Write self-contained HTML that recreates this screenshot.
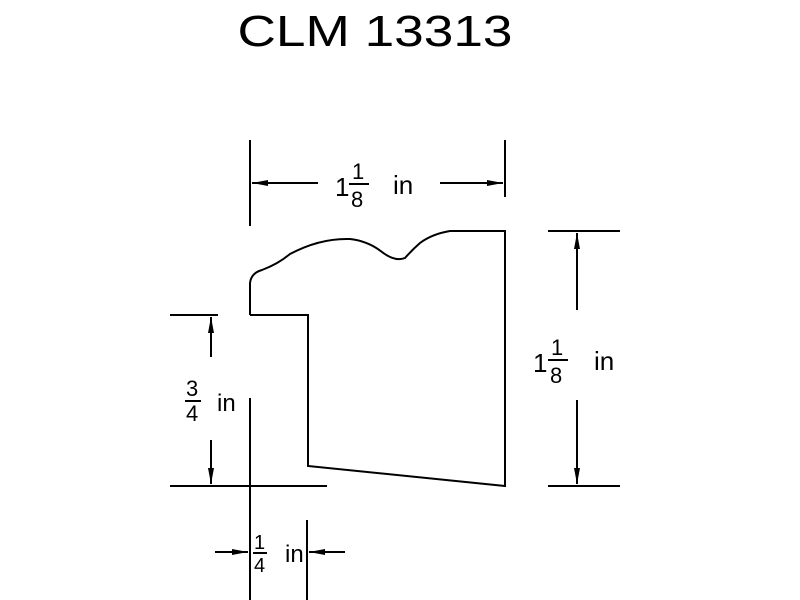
<!DOCTYPE html>
<html><head><style>body{margin:0;background:#fff}svg{display:block}text{font-family:"Liberation Sans",sans-serif;fill:#000}</style></head><body>
<svg width="800" height="600" viewBox="0 0 800 600" xmlns="http://www.w3.org/2000/svg">
<text x="375" y="46" font-size="44" text-anchor="middle" textLength="275" lengthAdjust="spacingAndGlyphs">CLM 13313</text>
<g stroke="#000" stroke-width="2" fill="none">
<path d="M250,315 L250,283 Q251,273 262,270 Q278,264 290,254 Q320,238 350,239 Q368,241 382,252 Q395,262 405,258 Q412,250 420,243 Q432,234 450,231 L505,231 L505,486 L308,466 L308,315 L250,315"/>
<line x1="250" y1="140" x2="250" y2="226"/>
<line x1="505" y1="140" x2="505" y2="197"/>
<line x1="252" y1="183" x2="318" y2="183"/>
<line x1="440" y1="183" x2="503" y2="183"/>
<line x1="548" y1="231" x2="620" y2="231"/>
<line x1="548" y1="486" x2="620" y2="486"/>
<line x1="577" y1="233" x2="577" y2="310"/>
<line x1="577" y1="400" x2="577" y2="484"/>
<line x1="170" y1="315" x2="218" y2="315"/>
<line x1="170" y1="486" x2="327" y2="486"/>
<line x1="211" y1="317" x2="211" y2="357"/>
<line x1="211" y1="440" x2="211" y2="484"/>
<line x1="250" y1="398" x2="250" y2="600"/>
<line x1="307" y1="520" x2="307" y2="600"/>
<line x1="215" y1="552" x2="248" y2="552"/>
<line x1="309" y1="552" x2="345" y2="552"/>
</g>
<g fill="#000">
<polygon points="252,183 268,180 268,186"/>
<polygon points="503,183 487,180 487,186"/>
<polygon points="577,233 574,249 580,249"/>
<polygon points="577,484 574,468 580,468"/>
<polygon points="211,317 208,333 214,333"/>
<polygon points="211,484 208,468 214,468"/>
<polygon points="248,552 232,549 232,555"/>
<polygon points="309,552 325,549 325,555"/>
</g>
<g font-size="26">
<text x="335" y="196">1</text>
<text x="352" y="179" font-size="22">1</text>
<line x1="349" y1="184" x2="369" y2="184" stroke="#000" stroke-width="2"/>
<text x="351" y="207" font-size="22">8</text>
<text x="393" y="194">in</text>
<text x="533" y="372">1</text>
<text x="551" y="355" font-size="22">1</text>
<line x1="548" y1="360" x2="568" y2="360" stroke="#000" stroke-width="2"/>
<text x="550" y="383" font-size="22">8</text>
<text x="594" y="370">in</text>
<text x="186" y="396" font-size="22">3</text>
<line x1="185" y1="401" x2="201" y2="401" stroke="#000" stroke-width="2"/>
<text x="186" y="421" font-size="22">4</text>
<text x="217" y="411" font-size="24">in</text>
<text x="254" y="549" font-size="20">1</text>
<line x1="253" y1="553" x2="267" y2="553" stroke="#000" stroke-width="2"/>
<text x="254" y="572" font-size="20">4</text>
<text x="285" y="562" font-size="24">in</text>
</g>
</svg>
</body></html>
